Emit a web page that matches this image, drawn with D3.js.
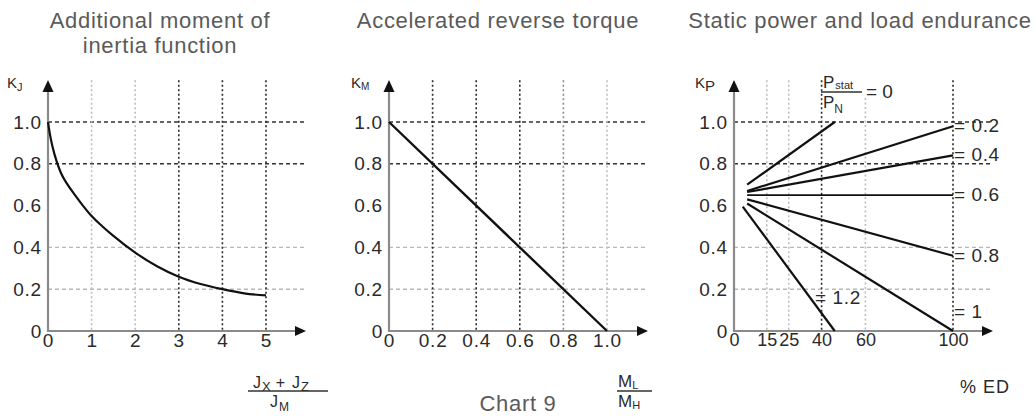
<!DOCTYPE html>
<html><head><meta charset="utf-8">
<script src="https://cdn.jsdelivr.net/npm/d3@7"></script>
<style>
body{margin:0;background:#fff}
svg{display:block}
.title{font-family:'Liberation Sans',Arial,sans-serif;font-size:22px;fill:#5a5a5a;letter-spacing:0.7px}
.tick text{font-family:'Liberation Sans',Arial,sans-serif;font-size:19px;fill:#2a2a2a;letter-spacing:0.8px}
.lbl{font-family:'Liberation Sans',Arial,sans-serif;fill:#2a2a2a}
</style></head><body>
<svg id="c" width="1036" height="419"></svg>
<script>
// ---------- data ----------
const yTicks = [0, 0.2, 0.4, 0.6, 0.8, 1.0];
const yGridDark = [1.0, 0.8];
const yGridLight = [0.4, 0.2];

// Panel 1: additional moment of inertia function
const kjX = [0, 0.05, 0.1, 0.2, 0.3, 0.45, 0.62, 0.8, 1.0, 1.25, 1.5, 2, 2.5, 3, 3.5, 4, 4.5, 5];
const kjY = [1.0, 0.935, 0.885, 0.81, 0.755, 0.7, 0.65, 0.6, 0.55, 0.5, 0.455, 0.375, 0.31, 0.26, 0.225, 0.2, 0.18, 0.17];
const kjTicks = [0, 1, 2, 3, 4, 5];
const kjGridDark = [3, 4, 5];
const kjGridLight = [1, 2];

// Panel 2: accelerated reverse torque
const kmX = [0, 1.0];
const kmY = [1.0, 0];
const kmTicks = [0, 0.2, 0.4, 0.6, 0.8, 1.0];
const kmGridDark = [0.2, 0.4, 0.6];
const kmGridMid = [0.8];
const kmGridLight = [1.0];

// Panel 3: static power and load endurance
const kpTicks = [0, 15, 25, 40, 60, 100];
const kpGridDark = [40, 100];
const kpGridLight = [15, 25, 60];
const kpRatios = ["0", "0.2", "0.4", "0.6", "0.8", "1", "1.2"];
const kpStartX = [6, 6, 6, 6, 6, 6, 4];
const kpStartY = [0.70, 0.67, 0.665, 0.65, 0.63, 0.61, 0.595];
const kpEndX = [46, 100, 100, 100, 100, 100, 46];
const kpEndY = [1.0, 0.98, 0.84, 0.65, 0.36, 0, 0];

// ---------- drawing ----------
const svg = d3.select("#c");
const y = d3.scaleLinear().domain([0, 1]).range([331, 122]);
const gridTop = y(1.2);

function drawPanel(o) {
  const g = svg.append("g");
  const x = o.x;
  const x0 = x.range()[0];
  g.selectAll(null).data(yGridLight).join("line")
    .attr("x1", x0).attr("x2", o.gridRight).attr("y1", d => y(d)).attr("y2", d => y(d))
    .attr("stroke", "#b8b8b8").attr("stroke-width", 1.4).attr("stroke-dasharray", "4,3");
  g.selectAll(null).data(yGridDark).join("line")
    .attr("x1", x0).attr("x2", o.gridRight).attr("y1", d => y(d)).attr("y2", d => y(d))
    .attr("stroke", "#333").attr("stroke-width", 1.4).attr("stroke-dasharray", "4,3");
  const vg = (data, col, top) => g.selectAll(null).data(data).join("line")
    .attr("x1", d => x(d)).attr("x2", d => x(d)).attr("y1", d => top(d)).attr("y2", y(0))
    .attr("stroke", col).attr("stroke-width", 1.6).attr("stroke-dasharray", "2,2.5");
  vg(o.light, "#bdbdbd", o.top);
  vg(o.mid || [], "#8c8c8c", o.top);
  vg(o.dark, "#2a2a2a", o.top);
  const ya = g.append("g").attr("transform", `translate(${x0},0)`)
    .call(d3.axisLeft(y).tickValues(yTicks).tickSize(0).tickPadding(6)
      .tickFormat(d => d === 0 ? "0" : d3.format(".1f")(d)));
  ya.select(".domain").remove();
  const xa = g.append("g").attr("class", "xaxis").attr("transform", `translate(0,${y(0)})`)
    .call(d3.axisBottom(x).tickValues(o.ticks).tickSize(0).tickPadding(2).tickFormat(o.fmt));
  xa.select(".domain").remove();
  g.append("line").attr("x1", x0).attr("x2", x0).attr("y1", y(0) + 1).attr("y2", 91)
    .attr("stroke", "#8a8a8a").attr("stroke-width", 2.2);
  g.append("line").attr("x1", x0 - 1).attr("x2", o.arrowX - 9).attr("y1", y(0)).attr("y2", y(0))
    .attr("stroke", "#8a8a8a").attr("stroke-width", 2.2);
  g.append("path").attr("d", `M${x0},80 L${x0 - 5.5},92 L${x0 + 5.5},92 Z`).attr("fill", "#111");
  g.append("path").attr("d", `M${o.arrowX},${y(0)} L${o.arrowX - 11},${y(0) - 5} L${o.arrowX - 11},${y(0) + 5} Z`).attr("fill", "#111");
  o.title.forEach((t, i) => g.append("text").attr("class", "title")
    .attr("x", o.titleX).attr("y", 28 + i * 25).attr("text-anchor", "middle").text(t));
  return g;
}

function kLabel(g, xPos, sub, subSize, subDy) {
  const t = g.append("text").attr("class", "lbl").attr("x", xPos).attr("y", 88).attr("font-size", 15);
  t.append("tspan").text("K");
  t.append("tspan").attr("font-size", subSize).attr("dy", subDy).text(sub);
}

// Panel 1
const x1 = d3.scaleLinear().domain([0, 5]).range([48, 266]);
const g1 = drawPanel({x: x1, ticks: kjTicks, fmt: d3.format("d"), dark: kjGridDark, light: kjGridLight,
  top: () => gridTop, gridRight: 304, arrowX: 306, title: ["Additional moment of", "inertia function"], titleX: 160});
g1.append("path").datum(kjX.map((d, i) => [d, kjY[i]]))
  .attr("d", d3.line().x(d => x1(d[0])).y(d => y(d[1])).curve(d3.curveMonotoneX))
  .attr("fill", "none").attr("stroke", "#111").attr("stroke-width", 2.2);
kLabel(g1, 7, "J", 11, 3);
{
  const t = g1.append("text").attr("class", "lbl").attr("x", 253).attr("y", 388).attr("font-size", 16);
  t.append("tspan").text("J");
  t.append("tspan").attr("font-size", 13).attr("dy", 3).attr("dx", 1).text("X");
  t.append("tspan").attr("dy", -3).attr("dx", 5).text("+");
  t.append("tspan").attr("dx", 7).text("J");
  t.append("tspan").attr("font-size", 13).attr("dy", 3).attr("dx", 1).text("Z");
  g1.append("line").attr("x1", 248).attr("x2", 328).attr("y1", 391).attr("y2", 391).attr("stroke", "#333").attr("stroke-width", 1.3);
  const d = g1.append("text").attr("class", "lbl").attr("x", 270).attr("y", 407).attr("font-size", 16);
  d.append("tspan").text("J");
  d.append("tspan").attr("font-size", 12).attr("dy", 4).attr("dx", 1).text("M");
}

// Panel 2
const x2 = d3.scaleLinear().domain([0, 1]).range([389, 607]);
const g2 = drawPanel({x: x2, ticks: kmTicks, fmt: d => d === 0 ? "0" : d3.format(".1f")(d),
  dark: kmGridDark, mid: kmGridMid, light: kmGridLight,
  top: () => gridTop, gridRight: 645, arrowX: 648, title: ["Accelerated reverse torque"], titleX: 498});
g2.append("path").datum(kmX.map((d, i) => [d, kmY[i]]))
  .attr("d", d3.line().x(d => x2(d[0])).y(d => y(d[1])))
  .attr("fill", "none").attr("stroke", "#111").attr("stroke-width", 2.4);
kLabel(g2, 351, "M", 10, 2);
{
  const t = g2.append("text").attr("class", "lbl").attr("x", 618).attr("y", 387).attr("font-size", 17);
  t.append("tspan").text("M");
  t.append("tspan").attr("font-size", 11).attr("dy", 2).text("L");
  g2.append("line").attr("x1", 617).attr("x2", 652).attr("y1", 391).attr("y2", 391).attr("stroke", "#333").attr("stroke-width", 1.3);
  const d = g2.append("text").attr("class", "lbl").attr("x", 618).attr("y", 407).attr("font-size", 17);
  d.append("tspan").text("M");
  d.append("tspan").attr("font-size", 11).attr("dy", 2).text("H");
  g2.append("text").attr("class", "title").attr("x", 518).attr("y", 411).attr("text-anchor", "middle").text("Chart 9");
}

// Panel 3
const x3 = d3.scaleLinear().domain([0, 100]).range([734, 953]);
const g3 = drawPanel({x: x3, ticks: kpTicks, fmt: d3.format("d"), dark: kpGridDark, light: kpGridLight,
  top: d => d === 60 ? 98 : gridTop, gridRight: 991, arrowX: 993, title: ["Static power and load endurance"], titleX: 860});
g3.selectAll(".xaxis .tick text").style("letter-spacing", "0px").style("font-size", "18px");
g3.selectAll(null).data(kpRatios).join("line")
  .attr("x1", (d, i) => x3(kpStartX[i])).attr("y1", (d, i) => y(kpStartY[i]))
  .attr("x2", (d, i) => x3(kpEndX[i])).attr("y2", (d, i) => y(kpEndY[i]))
  .attr("stroke", "#111").attr("stroke-width", (d, i) => i === 3 ? 1.6 : 2.2);
kLabel(g3, 695, "P", 15, 3);
kpRatios.forEach((r, i) => {
  if (i === 0) return;
  let lx = x3(kpEndX[i]) + 1, ly = y(kpEndY[i]) + 6;
  if (r === "1") ly = y(0) - 13;
  if (r === "1.2") { lx = x3(37); ly = y(0.16) + 6; }
  g3.append("text").attr("class", "lbl").attr("font-size", 19).attr("letter-spacing", "0.6px")
    .attr("x", lx).attr("y", ly).text("= " + r);
});
{
  const t = g3.append("text").attr("class", "lbl").attr("x", 823).attr("y", 88).attr("font-size", 17);
  t.append("tspan").text("P");
  t.append("tspan").attr("font-size", 11).attr("dy", 1).attr("dx", 1).text("stat");
  g3.append("line").attr("x1", 821).attr("x2", 862).attr("y1", 92).attr("y2", 92).attr("stroke", "#333").attr("stroke-width", 1.3);
  const d = g3.append("text").attr("class", "lbl").attr("x", 823).attr("y", 108).attr("font-size", 17);
  d.append("tspan").text("P");
  d.append("tspan").attr("font-size", 12).attr("dy", 5).text("N");
  g3.append("text").attr("class", "lbl").attr("font-size", 19).attr("x", 866).attr("y", 98).text("= 0");
  g3.append("text").attr("class", "lbl").attr("font-size", 18).attr("letter-spacing", "1px")
    .attr("x", 985).attr("y", 393).attr("text-anchor", "middle").text("% ED");
}
</script>
</body></html>
